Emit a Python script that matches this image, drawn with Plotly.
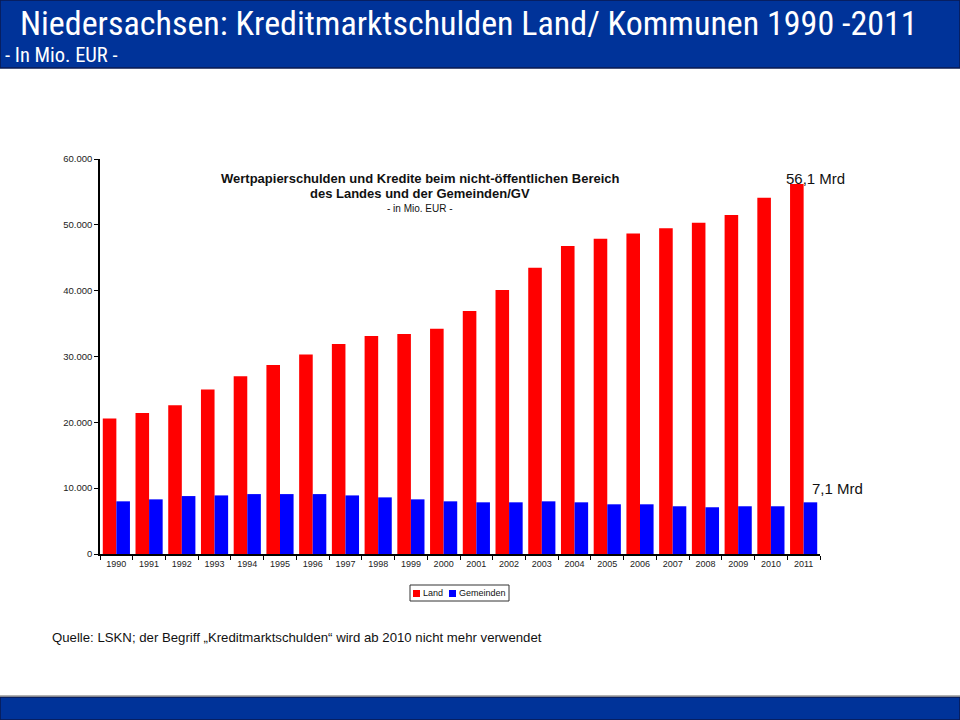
import plotly.graph_objects as go

years = [str(y) for y in range(1990, 2012)]
land = [20600, 21400, 22600, 25000, 27000, 28700, 30300, 31900, 33100, 33400, 34200,
        36900, 40100, 43500, 46800, 47900, 48700, 49500, 50300, 51500, 54100, 56200]
gemeinden = [8000, 8300, 8800, 8900, 9100, 9100, 9100, 8900, 8600, 8300, 8000,
             7850, 7850, 8000, 7850, 7550, 7550, 7250, 7100, 7250, 7250, 7850]
y_tickvals = [0, 10000, 20000, 30000, 40000, 50000, 60000]
y_ticktext = ["0", "10.000", "20.000", "30.000", "40.000", "50.000", "60.000"]
colors = {"Land": "#FF0000", "Gemeinden": "#0000FF"}

W, H = 960, 720
def px(x):
    return x / W
def py(y):
    return (H - y) / H

fig = go.Figure()
fig.add_trace(go.Bar(name="Land", x=years, y=land, marker_color=colors["Land"], marker_line_width=0))
fig.add_trace(go.Bar(name="Gemeinden", x=years, y=gemeinden, marker_color=colors["Gemeinden"], marker_line_width=0))

fig.update_layout(
    width=W, height=H,
    margin=dict(l=0, r=0, t=0, b=0, pad=0, autoexpand=False),
    paper_bgcolor="white", plot_bgcolor="white",
    barmode="group", bargap=0.17, bargroupgap=0,
    showlegend=False,
    xaxis=dict(domain=[px(100), px(820)], type="category", showgrid=False, automargin=False,
               showline=True, linecolor="black", linewidth=1.5,
               ticks="outside", tickson="boundaries", ticklen=4, tickcolor="black",
               tickfont=dict(family="Arial, Liberation Sans", size=9, color="#222222")),
    yaxis=dict(domain=[py(554), py(159)], range=[0, 60000], showgrid=False, automargin=False,
               showline=True, linecolor="black", linewidth=1.5,
               ticks="outside", ticklen=4, tickcolor="black",
               tickvals=y_tickvals, ticktext=y_ticktext,
               tickfont=dict(family="Arial, Liberation Sans", size=9.5, color="#222222")),
)

shapes = [
    dict(type="rect", xref="paper", yref="paper", x0=0, x1=1, y0=py(68), y1=1,
         fillcolor="#003399", line=dict(color="#0A1A50", width=1.5), layer="above"),
    dict(type="rect", xref="paper", yref="paper", x0=0, x1=1, y0=0, y1=py(697),
         fillcolor="#003399", line=dict(color="#0A1A50", width=1.5), layer="above"),
    dict(type="line", xref="paper", yref="paper", x0=0, x1=1, y0=py(696), y1=py(696),
         line=dict(color="#999999", width=1.5)),
    # legend box and swatches
    dict(type="rect", xref="paper", yref="paper", x0=px(410), x1=px(509), y0=py(601), y1=py(585),
         fillcolor="white", line=dict(color="#333333", width=1)),
    dict(type="rect", xref="paper", yref="paper", x0=px(413), x1=px(420), y0=py(597), y1=py(590),
         fillcolor=colors["Land"], line=dict(width=0)),
    dict(type="rect", xref="paper", yref="paper", x0=px(449), x1=px(456), y0=py(597), y1=py(590),
         fillcolor=colors["Gemeinden"], line=dict(width=0)),
]
fig.update_layout(shapes=shapes)

title_font = "Liberation Sans Narrow, Roboto Condensed, Open Sans"
def ann(text, x, y, size, family="Arial, Liberation Sans", color="#111111", anchor="left"):
    return dict(text=text, x=px(x), y=py(y), xanchor=anchor, yanchor="middle",
                showarrow=False, xref="paper", yref="paper",
                font=dict(family=family, size=size, color=color))

annotations = [
    ann("Niedersachsen: Kreditmarktschulden Land/ Kommunen 1990 -2011", 18, 23, 34, title_font, "white"),
    ann("- In Mio. EUR -", 3, 55, 20.5, title_font, "white"),
    ann("<b>Wertpapierschulden und Kredite beim nicht-öffentlichen Bereich</b>", 420, 178, 13, anchor="center"),
    ann("<b>des Landes und der Gemeinden/GV</b>", 420, 193, 13, anchor="center"),
    ann("- in Mio. EUR -", 420, 209, 10, anchor="center"),
    ann("56,1 Mrd", 784, 178, 15),
    ann("7,1 Mrd", 810, 488, 15),
    ann("Quelle: LSKN; der Begriff „Kreditmarktschulden“ wird ab 2010 nicht mehr verwendet", 50, 637, 13.2),
    ann("Land", 421, 593, 9),
    ann("Gemeinden", 457, 593, 9),
]
fig.update_layout(annotations=annotations)

fig.write_html("out.html", config={"displayModeBar": False},
               post_script="document.body.style.margin='0';document.body.style.overflow='hidden';")
